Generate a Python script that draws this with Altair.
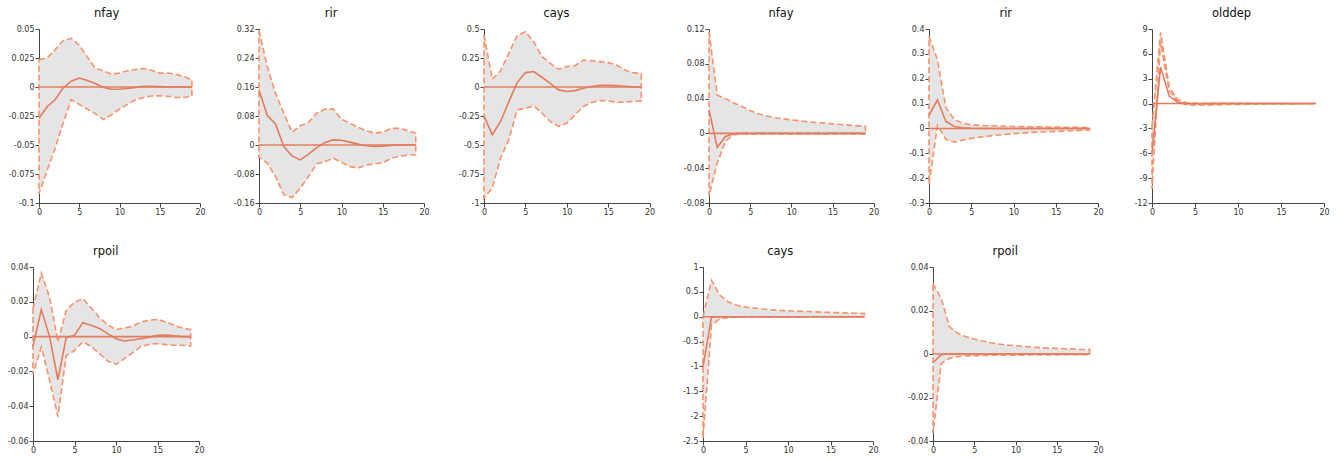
import altair as alt
import pandas as pd

# Horizon (periods after the shock)
steps = list(range(20))

# --- Block A: responses to the first shock -------------------------------
nfay_a_irf = [-0.027, -0.017, -0.011, -0.001, 0.005, 0.0077, 0.0057, 0.003, -0.0005, -0.002,
              -0.002, -0.0013, -0.0005, 0.0005, 0.0005, 0.0003, 0.0, 0.0, 0.0, 0.0]
nfay_a_lo = [-0.092, -0.072, -0.053, -0.031, -0.011, -0.015, -0.019, -0.023, -0.028, -0.024,
             -0.019, -0.015, -0.011, -0.009, -0.0078, -0.0075, -0.008, -0.009, -0.009, -0.0077]
nfay_a_hi = [0.0236, 0.025, 0.032, 0.040, 0.042, 0.036, 0.026, 0.016, 0.014, 0.011,
             0.012, 0.014, 0.015, 0.016, 0.0145, 0.012, 0.012, 0.011, 0.009, 0.006]

rir_a_irf = [0.152, 0.082, 0.058, -0.004, -0.030, -0.041, -0.025, -0.007, 0.007, 0.014,
             0.013, 0.008, 0.0025, -0.002, -0.004, -0.003, -0.001, 0.0, 0.0006, 0.0006]
rir_a_lo = [-0.034, -0.050, -0.087, -0.137, -0.145, -0.119, -0.087, -0.052, -0.046, -0.036,
            -0.048, -0.059, -0.064, -0.055, -0.052, -0.049, -0.037, -0.031, -0.028, -0.027]
rir_a_hi = [0.316, 0.216, 0.143, 0.088, 0.035, 0.053, 0.062, 0.088, 0.099, 0.099,
            0.071, 0.060, 0.049, 0.039, 0.033, 0.035, 0.046, 0.046, 0.040, 0.033]

cays_a_irf = [-0.249, -0.412, -0.297, -0.126, 0.038, 0.124, 0.133, 0.084, 0.032, -0.025,
              -0.039, -0.031, -0.011, 0.004, 0.015, 0.015, 0.012, 0.007, 0.001, -0.002]
cays_a_lo = [-0.957, -0.87, -0.613, -0.455, -0.197, -0.183, -0.163, -0.226, -0.297, -0.34,
             -0.312, -0.24, -0.168, -0.134, -0.117, -0.12, -0.131, -0.131, -0.125, -0.12]
cays_a_hi = [0.448, 0.067, 0.139, 0.29, 0.443, 0.477, 0.39, 0.262, 0.204, 0.153,
             0.176, 0.184, 0.233, 0.227, 0.219, 0.21, 0.19, 0.147, 0.124, 0.113]

rpoil_a_irf = [-0.0056, 0.0155, 0.0, -0.0248, -0.0006, 0.0007, 0.008, 0.0065, 0.0047, 0.0017,
               -0.0012, -0.0025, -0.002, -0.0012, -0.0003, 0.0007, 0.0009, 0.0005, 0.0, 0.0]
rpoil_a_lo = [-0.0217, -0.006, -0.025, -0.046, -0.011, -0.008, -0.003, -0.0056, -0.0098, -0.014,
              -0.016, -0.0127, -0.0094, -0.0056, -0.0045, -0.004, -0.0046, -0.005, -0.005, -0.0054]
rpoil_a_hi = [0.016, 0.0365, 0.0227, -0.003, 0.015, 0.0198, 0.0218, 0.0166, 0.011, 0.0068,
              0.004, 0.005, 0.0059, 0.0084, 0.0094, 0.0099, 0.0084, 0.0065, 0.0049, 0.004]

# --- Block B: responses to the second shock ------------------------------
nfay_b_irf = [0.027, -0.016, -0.0035, -0.0005, 0.0, 0.0, 0.0, 0.0, 0.0, 0.0,
              0.0, 0.0, 0.0, 0.0, 0.0, 0.0, 0.0, 0.0, 0.0, 0.0]
nfay_b_lo = [-0.072, -0.034, -0.009, -0.0016, -0.0006, -0.0005, -0.0005, -0.0005, -0.0005, -0.0005,
             -0.0005, -0.0005, -0.0005, -0.0005, -0.0005, -0.0005, -0.0005, -0.0005, -0.0005, -0.0005]
nfay_b_hi = [0.117, 0.044, 0.040, 0.035, 0.031, 0.026, 0.0225, 0.020, 0.018, 0.0168,
             0.0156, 0.0145, 0.0133, 0.0125, 0.0118, 0.011, 0.0103, 0.0095, 0.0087, 0.008]

rir_b_irf = [0.053, 0.115, 0.028, 0.008, 0.003, 0.001, 0.0, 0.0, 0.0, 0.0,
             0.0, 0.0, 0.0, 0.0, 0.0, 0.0, 0.0, 0.0, 0.0, 0.0]
rir_b_lo = [-0.224, 0.012, -0.044, -0.055, -0.047, -0.040, -0.035, -0.031, -0.027, -0.024,
            -0.021, -0.019, -0.016, -0.0147, -0.013, -0.012, -0.011, -0.0093, -0.008, -0.0067]
rir_b_hi = [0.37, 0.276, 0.083, 0.036, 0.02, 0.015, 0.012, 0.011, 0.010, 0.009,
            0.008, 0.0075, 0.007, 0.0065, 0.006, 0.0055, 0.005, 0.0045, 0.004, 0.0035]

olddep_b_irf = [-6.0, 4.4, 0.9, 0.15, -0.02, -0.03, -0.02, -0.01, 0.0, 0.0,
                0.0, 0.0, 0.0, 0.0, 0.0, 0.0, 0.0, 0.0, 0.0, 0.0]
olddep_b_lo = [-10.3, 7.4, 1.5, 0.15, -0.15, -0.2, -0.2, -0.18, -0.15, -0.12,
               -0.1, -0.08, -0.07, -0.06, -0.05, -0.04, -0.04, -0.03, -0.03, -0.03]
olddep_b_hi = [-2.7, 8.6, 2.0, 0.45, 0.1, 0.05, 0.03, 0.03, 0.02, 0.02,
               0.02, 0.02, 0.015, 0.015, 0.015, 0.01, 0.01, 0.01, 0.01, 0.01]

cays_b_irf = [-1.01, -0.005, 0.0, 0.0, 0.0, 0.0, 0.0, 0.0, 0.0, 0.0,
              0.0, 0.0, 0.0, 0.0, 0.0, 0.0, 0.0, 0.0, 0.0, 0.0]
cays_b_lo = [-2.45, -0.17, -0.04, -0.02, -0.01, -0.006, -0.005, -0.004, -0.004, -0.003,
             -0.003, -0.003, -0.002, -0.002, -0.002, -0.002, -0.002, -0.002, -0.002, -0.002]
cays_b_hi = [0.0, 0.73, 0.43, 0.295, 0.23, 0.195, 0.175, 0.155, 0.14, 0.128,
             0.12, 0.113, 0.105, 0.098, 0.092, 0.087, 0.082, 0.076, 0.071, 0.065]

rpoil_b_irf = [-0.004, -0.0003, 0.0, 0.0, 0.0, 0.0, 0.0, 0.0, 0.0, 0.0,
               0.0, 0.0, 0.0, 0.0, 0.0, 0.0, 0.0, 0.0, 0.0, 0.0]
rpoil_b_lo = [-0.0363, -0.0043, -0.002, -0.0012, -0.0009, -0.0008, -0.0007, -0.0006, -0.0006, -0.0005,
              -0.0005, -0.0005, -0.0004, -0.0004, -0.0004, -0.0004, -0.0003, -0.0003, -0.0003, -0.0003]
rpoil_b_hi = [0.0324, 0.0255, 0.0125, 0.0095, 0.0079, 0.0069, 0.006, 0.0052, 0.0046, 0.0041,
              0.0038, 0.0035, 0.0032, 0.0029, 0.0027, 0.0026, 0.0024, 0.0023, 0.0021, 0.002]

# Y-axis tick values per panel
ticks_nfay_a = [-0.1, -0.075, -0.05, -0.025, 0, 0.025, 0.05]
ticks_rir_a = [-0.16, -0.08, 0, 0.08, 0.16, 0.24, 0.32]
ticks_cays_a = [-1, -0.75, -0.5, -0.25, 0, 0.25, 0.5]
ticks_rpoil_a = [-0.06, -0.04, -0.02, 0, 0.02, 0.04]
ticks_nfay_b = [-0.08, -0.04, 0, 0.04, 0.08, 0.12]
ticks_rir_b = [-0.3, -0.2, -0.1, 0, 0.1, 0.2, 0.3, 0.4]
ticks_olddep_b = [-12, -9, -6, -3, 0, 3, 6, 9]
ticks_cays_b = [-2.5, -2, -1.5, -1, -0.5, 0, 0.5, 1]
ticks_rpoil_b = [-0.04, -0.02, 0, 0.02, 0.04]
x_ticks = [0, 5, 10, 15, 20]

BAND_FILL = "#e5e5e5"
BAND_EDGE = "#f8926a"
IRF_COLOR = "#e27c5e"
PANEL_H = 174
FONT = "DejaVu Sans"


def panel(name, irf, lo, hi, ticks, width):
    df = pd.DataFrame({"t": steps, "irf": irf, "lo": lo, "hi": hi, "z": [0.0] * len(steps)})
    # closed outline of the confidence band: upper edge forward, lower edge back
    n = len(steps)
    outline = pd.DataFrame({
        "t": steps + steps[::-1] + [steps[0]],
        "v": hi + lo[::-1] + [hi[0]],
        "o": list(range(2 * n + 1)),
    })
    xs = alt.Scale(domain=[0, 20], nice=False)
    ys = alt.Scale(domain=[min(ticks), max(ticks)], nice=False, zero=False)
    xa = alt.Axis(values=x_ticks, title=None, labelFlush=False)
    ya = alt.Axis(values=ticks, title=None, labelExpr="'' + datum.value")

    def X():
        return alt.X("t:Q", scale=xs, axis=xa)

    def Y(field):
        return alt.Y(f"{field}:Q", scale=ys, axis=ya)

    band = alt.Chart(df).mark_area(color=BAND_FILL, opacity=1).encode(
        x=X(), y=Y("lo"), y2="hi:Q")
    edge = alt.Chart(outline).mark_line(
        color=BAND_EDGE, strokeWidth=1.6, strokeDash=[6, 3]).encode(
        x=X(), y=Y("v"), order="o:Q")
    zero = alt.Chart(df).mark_line(color=IRF_COLOR, strokeWidth=1.6).encode(x=X(), y=Y("z"))
    resp = alt.Chart(df).mark_line(color=IRF_COLOR, strokeWidth=1.6).encode(x=X(), y=Y("irf"))
    return alt.layer(band, edge, zero, resp).properties(
        width=width, height=PANEL_H,
        title=alt.TitleParams(name, anchor="middle", frame="bounds", baseline="alphabetic"))


def gap(w, h=PANEL_H):
    return alt.Chart(pd.DataFrame({"v": [0]})).mark_rule(opacity=0, strokeWidth=1).encode(
        x=alt.value(1), y=alt.value(1), y2=alt.value(2)).properties(width=w, height=h)


row1 = alt.hconcat(
    gap(38.3, PANEL_H + 30), panel("nfay", nfay_a_irf, nfay_a_lo, nfay_a_hi, ticks_nfay_a, 161),
    gap(58.4), panel("rir", rir_a_irf, rir_a_lo, rir_a_hi, ticks_rir_a, 165),
    gap(60), panel("cays", cays_a_irf, cays_a_lo, cays_a_hi, ticks_cays_a, 165.6),
    gap(59), panel("nfay", nfay_b_irf, nfay_b_lo, nfay_b_hi, ticks_nfay_b, 164.7),
    gap(54.7), panel("rir", rir_b_irf, rir_b_lo, rir_b_hi, ticks_rir_b, 169),
    gap(53.3), panel("olddep", olddep_b_irf, olddep_b_lo, olddep_b_hi, ticks_olddep_b, 172),
    spacing=0, bounds="flush",
)
row2 = alt.hconcat(
    gap(33), panel("rpoil", rpoil_a_irf, rpoil_a_lo, rpoil_a_hi, ticks_rpoil_a, 166),
    gap(503.3), panel("cays", cays_b_irf, cays_b_lo, cays_b_hi, ticks_cays_b, 170),
    gap(59.7), panel("rpoil", rpoil_b_irf, rpoil_b_lo, rpoil_b_hi, ticks_rpoil_b, 165),
    spacing=0, bounds="flush",
)

chart = alt.vconcat(row1, row2, spacing=12).properties(
    padding={"left": 0, "top": 7, "right": 0, "bottom": 0},
).configure_view(stroke=None).configure_axis(
    grid=False, labelFont=FONT, labelFontSize=8, labelColor="#333",
    domainColor="#444", tickColor="#444", tickSize=4, labelPadding=1, domainWidth=1,
).configure_title(
    font=FONT, fontSize=11.5, fontWeight="normal", color="#111", offset=-3,
)

chart.save("out.html", embed_options={"renderer": "svg", "actions": False})
